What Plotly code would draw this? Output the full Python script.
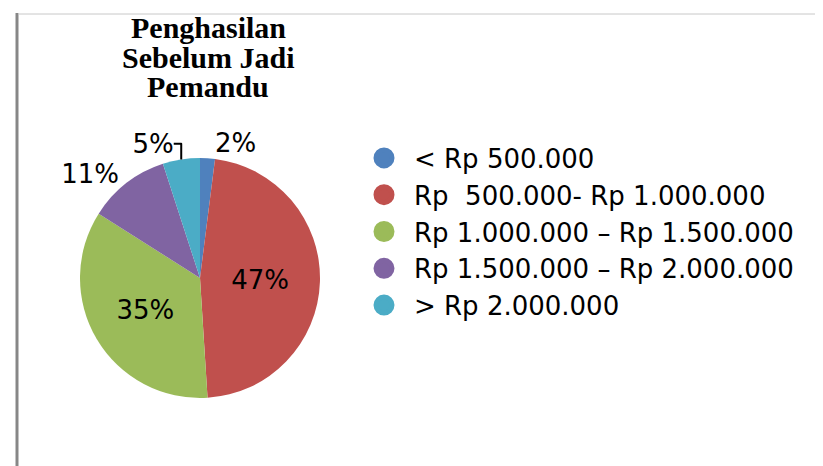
import plotly.graph_objects as go

title_lines = ["Penghasilan", "Sebelum Jadi", "Pemandu"]
categories = [
    "< Rp 500.000",
    "Rp  500.000- Rp 1.000.000",
    "Rp 1.000.000 – Rp 1.500.000",
    "Rp 1.500.000 – Rp 2.000.000",
    "> Rp 2.000.000",
]
shares = [2, 47, 35, 11, 5]
colors = ["#4F81BD", "#C0504D", "#9BBB59", "#8064A2", "#4BACC6"]
text_pos = ["outside", "inside", "inside", "outside", "outside"]

W, H = 823, 466
fig = go.Figure()

fig.add_trace(
    go.Pie(
        labels=categories,
        values=shares,
        sort=False,
        direction="clockwise",
        rotation=0,
        marker=dict(colors=colors, line=dict(width=0)),
        texttemplate="%{percent:.0%}",
        textposition=text_pos,
        insidetextorientation="horizontal",
        textfont=dict(family="DejaVu Sans", size=26, color="black"),
        showlegend=False,
        domain=dict(x=[72 / W, 312 / W], y=[76 / H, 316 / H]),
        hoverinfo="label+percent",
    )
)

# legend entries with round markers
for name, col in zip(categories, colors):
    fig.add_trace(
        go.Scatter(
            x=[None], y=[None], mode="markers", name=name,
            marker=dict(symbol="circle", size=26, color=col,
                        line=dict(width=5, color=col)),
        )
    )

title_y = [20, 49, 79]
for line, ty in zip(title_lines, title_y):
    fig.add_annotation(
        text=f"<b>{line}</b>", x=200 / W, y=1 - ty / H,
        xref="paper", yref="paper", xanchor="center", yanchor="middle",
        showarrow=False,
        font=dict(family="Liberation Serif", size=30, color="black"),
    )

# frame lines
fig.add_shape(type="line", xref="paper", yref="paper",
              x0=9 / W, x1=9 / W, y0=0, y1=1 - 5 / H,
              line=dict(color="#878787", width=3))
fig.add_shape(type="line", xref="paper", yref="paper",
              x0=10 / W, x1=1, y0=1 - 6 / H, y1=1 - 6 / H,
              line=dict(color="#c8c8c8", width=1))

fig.update_layout(
    width=W, height=H,
    margin=dict(l=0, r=0, t=0, b=0),
    paper_bgcolor="white", plot_bgcolor="white",
    xaxis=dict(visible=False), yaxis=dict(visible=False),
    legend=dict(
        x=346 / W, y=1 - 224 / H, xanchor="left", yanchor="middle",
        font=dict(family="DejaVu Sans", size=26, color="black"),
        itemwidth=50, bgcolor="rgba(0,0,0,0)",
    ),
)

fig.write_html("out.html")
